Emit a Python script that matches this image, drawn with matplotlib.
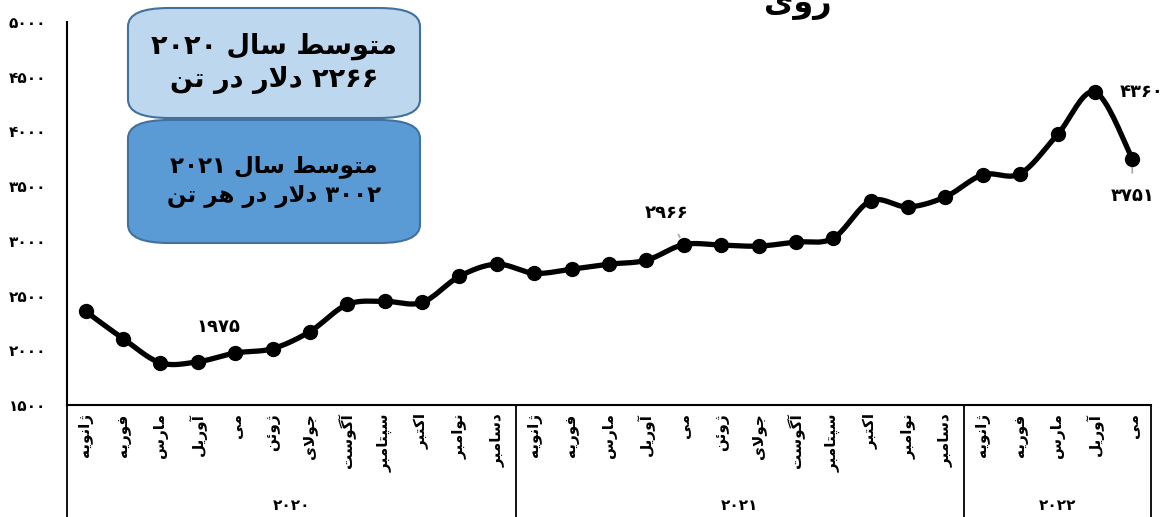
import numpy as np
import matplotlib
matplotlib.use("Agg")
import matplotlib.pyplot as plt
from matplotlib.patches import FancyBboxPatch
from matplotlib.ticker import FuncFormatter

# data
months = ["ژانویه", "فوریه", "مارس", "آوریل", "می", "ژوئن", "جولای", "آگوست",
          "سپتامبر", "اکتبر", "نوامبر", "دسامبر"]
years = ["2020", "2021", "2022"]
months_per_year = [12, 12, 5]
prices = [2355, 2107, 1886, 1895, 1975, 2015, 2171, 2419, 2447, 2437, 2676, 2787,
          2704, 2741, 2787, 2823, 2966, 2961, 2952, 2989, 3025, 3366, 3310, 3402,
          3604, 3614, 3972, 4360, 3751]
labelled = [4, 16, 27, 28]
title = "روی"
box1_lines = ["متوسط سال 2020", "2266 دلار در تن"]
box2_lines = ["متوسط سال 2021", "3002 دلار در هر تن"]

# minimal arabic shaping (matplotlib has no complex text layout)
FORMS = {
    'ا': (0xFE8D, 0xFE8E, None, None), 'آ': (0xFE81, 0xFE82, None, None),
    'ئ': (0xFE89, 0xFE8A, 0xFE8B, 0xFE8C), 'ب': (0xFE8F, 0xFE90, 0xFE91, 0xFE92),
    'ت': (0xFE95, 0xFE96, 0xFE97, 0xFE98), 'ج': (0xFE9D, 0xFE9E, 0xFE9F, 0xFEA0),
    'د': (0xFEA9, 0xFEAA, None, None), 'ر': (0xFEAD, 0xFEAE, None, None),
    'س': (0xFEB1, 0xFEB2, 0xFEB3, 0xFEB4), 'ط': (0xFEC1, 0xFEC2, 0xFEC3, 0xFEC4),
    'ف': (0xFED1, 0xFED2, 0xFED3, 0xFED4), 'ل': (0xFEDD, 0xFEDE, 0xFEDF, 0xFEE0),
    'م': (0xFEE1, 0xFEE2, 0xFEE3, 0xFEE4), 'ن': (0xFEE5, 0xFEE6, 0xFEE7, 0xFEE8),
    'ه': (0xFEE9, 0xFEEA, 0xFEEB, 0xFEEC), 'و': (0xFEED, 0xFEEE, None, None),
    'پ': (0xFB56, 0xFB57, 0xFB58, 0xFB59), 'ژ': (0xFB8A, 0xFB8B, None, None),
    'ک': (0xFB8E, 0xFB8F, 0xFB90, 0xFB91), 'گ': (0xFB92, 0xFB93, 0xFB94, 0xFB95),
    'ی': (0xFBFC, 0xFBFD, 0xFBFE, 0xFBFF),
    'لا': (0xFEFB, 0xFEFC, None, None), 'لآ': (0xFEF5, 0xFEF6, None, None),
}
FA_DIGITS = str.maketrans("0123456789", "۰۱۲۳۴۵۶۷۸۹")


def shape_word(w):
    chars, i = [], 0
    while i < len(w):
        if w[i] == 'ل' and i + 1 < len(w) and w[i + 1] in 'اآ':
            chars.append(w[i:i + 2])
            i += 2
        else:
            chars.append(w[i])
            i += 1
    out = []
    for k, c in enumerate(chars):
        f = FORMS.get(c)
        if f is None:
            out.append(c)
            continue
        prev = FORMS.get(chars[k - 1]) if k > 0 else None
        nxt = FORMS.get(chars[k + 1]) if k + 1 < len(chars) else None
        jp = prev is not None and prev[2] is not None
        jn = nxt is not None and f[2] is not None
        g = f[3] if (jp and jn) else f[1] if jp else f[2] if jn else f[0]
        out.append(chr(g))
    return ''.join(out)


def fa(text):
    vis = []
    for w in reversed(text.split(' ')):
        if w.isdigit():
            vis.append(w.translate(FA_DIGITS))
        else:
            vis.append(shape_word(w)[::-1])
    return ' '.join(vis)


def smooth(x, y, n=20):
    # catmull-rom through the points
    P = np.column_stack([x, y]).astype(float)
    P = np.vstack([P[0], P, P[-1]])
    pts = []
    t = np.linspace(0, 1, n, endpoint=False)[:, None]
    for i in range(1, len(P) - 2):
        p0, p1, p2, p3 = P[i - 1], P[i], P[i + 1], P[i + 2]
        seg = 0.5 * ((2 * p1) + (-p0 + p2) * t + (2 * p0 - 5 * p1 + 4 * p2 - p3) * t ** 2
                     + (-p0 + 3 * p1 - 3 * p2 + p3) * t ** 3)
        pts.append(seg)
    pts.append(P[-2][None, :])
    pts = np.vstack(pts)
    return pts[:, 0], pts[:, 1]


plt.rcParams['font.family'] = ['DejaVu Sans']
plt.rcParams['font.weight'] = 'bold'

fig = plt.figure(figsize=(11.66, 5.17), dpi=100)
ax = fig.add_axes([67 / 1166, 1 - 405 / 517, (1151 - 67) / 1166, (405 - 22) / 517])

x = np.arange(len(prices))
sx, sy = smooth(x, prices)
ax.plot(sx, sy, color='black', lw=3.8, solid_capstyle='round', zorder=3)
ax.plot(x, prices, 'o', color='black', ms=10, zorder=4)

ax.set_xlim(-0.5, len(prices) - 0.5)
ax.set_ylim(1500, 5000)
ax.set_yticks(np.arange(1500, 5001, 500))
ax.yaxis.set_major_formatter(FuncFormatter(lambda v, p: str(int(v)).translate(FA_DIGITS)))
ax.tick_params(axis='y', length=0, pad=15, labelsize=11)
ax.set_xticks([])
for s in ['top', 'right']:
    ax.spines[s].set_visible(False)
ax.spines['left'].set_linewidth(1.5)
ax.spines['bottom'].set_linewidth(1.5)

# category table under the axis
xt = ax.get_xaxis_transform()
edges = np.concatenate([[0], np.cumsum(months_per_year)]) - 0.5
for e in edges:
    ax.plot([e, e], [0, -0.4], color='black', lw=1.3, transform=xt, clip_on=False)
k = 0
for yi, n in enumerate(months_per_year):
    for m in range(n):
        ax.text(k, -0.022, fa(months[m]), rotation=90, ha='center', va='top',
                fontsize=11, transform=xt, clip_on=False)
        k += 1
    ax.text(edges[yi] + n / 2, -0.262, years[yi].translate(FA_DIGITS), ha='center',
            va='center', fontsize=11, transform=xt)

# data labels
lab_off = {4: (-0.45, 235), 16: (-0.45, 290), 27: (1.25, 0), 28: (0, -340)}
for i in labelled:
    dx, dy = lab_off[i]
    arrow = dict(arrowstyle='-', color='#A6A6A6', lw=1.2, shrinkA=8, shrinkB=6)
    if i == 27:
        arrow = None
    ax.annotate(str(prices[i]).translate(FA_DIGITS), xy=(i, prices[i]),
                xytext=(i + dx, prices[i] + dy), ha='center', va='center',
                fontsize=13, annotation_clip=False, arrowprops=arrow)

# title, clipped at the top like the source
fig.text(798 / 1166, 1 - 12 / 517, fa(title), ha='center', va='baseline', fontsize=23)

# summary boxes
def box(x0, y0, x1, y1, fc, lines, fs):
    w, h = (x1 - x0) / 1166, (y1 - y0) / 517
    p = FancyBboxPatch((x0 / 1166, 1 - y1 / 517), w, h,
                       boxstyle="round,pad=0,rounding_size=0.035",
                       transform=fig.transFigure, fc=fc, ec='#41719C', lw=1.5,
                       mutation_aspect=1166 / 517 * 0.45)
    fig.patches.append(p)
    cx = (x0 + x1) / 2 / 1166
    cy = 1 - (y0 + y1) / 2 / 517
    fig.text(cx, cy, "\n".join(fa(l) for l in lines), ha='center', va='center',
             fontsize=fs, linespacing=1.3)

box(128, 8, 420, 118, '#BDD7EE', box1_lines, 19.5)
box(128, 120, 420, 243, '#5B9BD5', box2_lines, 16.5)

fig.savefig("out.png", dpi=100)
